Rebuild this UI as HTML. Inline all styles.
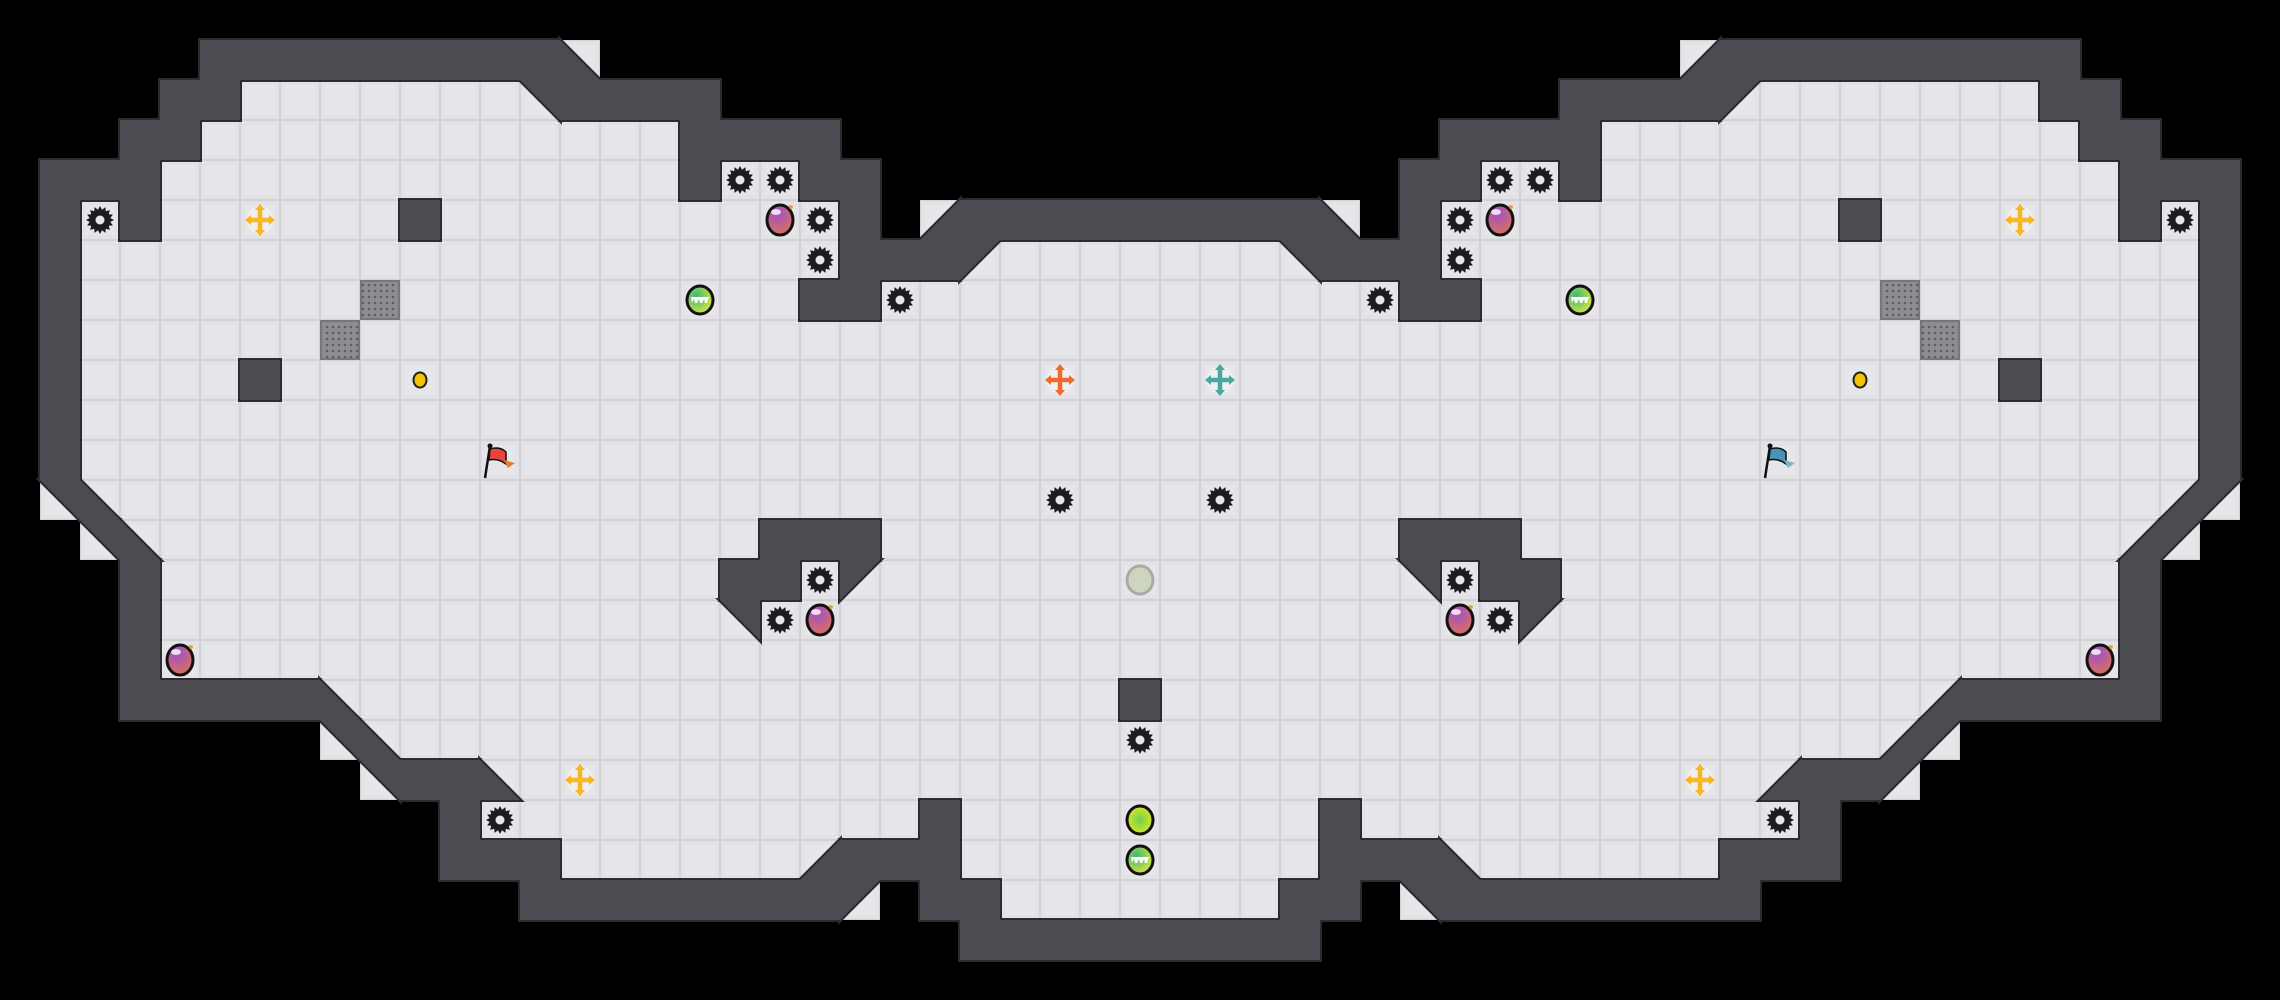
<!DOCTYPE html>
<html><head><meta charset="utf-8"><style>
html,body{margin:0;padding:0;background:#000;}
svg{display:block;}
</style></head><body>
<svg id="s" xmlns="http://www.w3.org/2000/svg" width="2280" height="1000" viewBox="0 0 2280 1000">
<defs>
<radialGradient id="gp" cx="40%" cy="25%" r="75%"><stop offset="0" stop-color="#a050c8"/><stop offset="1" stop-color="#d8705e"/></radialGradient>
<radialGradient id="gg" cx="35%" cy="35%" r="75%"><stop offset="0" stop-color="#3cb878"/><stop offset="1" stop-color="#e0e83a"/></radialGradient>
<radialGradient id="gy" cx="50%" cy="50%" r="60%"><stop offset="0" stop-color="#6fcf4a"/><stop offset="1" stop-color="#e8ec22"/></radialGradient>
<pattern id="dots" width="6" height="6" patternUnits="userSpaceOnUse"><rect width="6" height="6" fill="#8e8e92"/><circle cx="3" cy="3" r="1.3" fill="#5e5e62"/></pattern>
</defs>
<rect width="2280" height="1000" fill="#000"/>
<g id="floor"></g>
<g id="wallo" fill="#2b2b30" stroke="#2b2b30" stroke-width="4" stroke-linejoin="miter"></g>
<g id="wall" fill="#4b4b51"></g>
<g id="obj"></g>
</svg>
<script>
var L=[
"                             ",
"     #########b              ",
"    ##.......a####           ",
"   ##............####        ",
" ###.............#..##       ",
" #.#......#..........# d#####",
" #...................###c....",
" #..................##.......",
" #...........................",
" #....#......................",
" #...........................",
" #...........................",
" ab..........................",
"  ab...............###.......",
"   #..............##.c.......",
"   #..............a..........",
"   #.........................",
"   #####b...................#",
"        ab...................",
"         a##b................",
"           #...........#.....",
"           ###......d###.....",
"             ########c ##....",
"                        #####",
"                             "];
var mp={'a':'c','c':'a','b':'d','d':'b'};
var G=L.map(function(r){var s=r;for(var c=27;c>=0;c--){var ch=r[c];s+=(mp[ch]||ch);}return s;});
var NS="http://www.w3.org/2000/svg";
function el(p,t,a){var e=document.createElementNS(NS,t);for(var k in a)e.setAttribute(k,a[k]);p.appendChild(e);return e;}
var F=document.getElementById('floor'),WO=document.getElementById('wallo'),W=document.getElementById('wall'),O=document.getElementById('obj');
var T=40;
for(var r=0;r<25;r++)for(var c=0;c<57;c++){
 var ch=G[r][c],x=c*T,y=r*T;
 if(ch==' ')continue;
 if(ch!='#'){
  el(F,'rect',{x:x,y:y,width:T,height:T,fill:'#d3d3d8'});
  el(F,'rect',{x:x+1.5,y:y+1.5,width:T-3,height:T-3,fill:'#e7e7eb'});
  el(F,'rect',{x:x+4,y:y+4,width:T-8,height:T-8,fill:'none',stroke:'#dedee2','stroke-width':1});
 }
 var pts=null;
 if(ch=='#')pts=[[x,y],[x+T,y],[x+T,y+T],[x,y+T]];
 else if(ch=='a')pts=[[x,y],[x+T,y],[x+T,y+T]];
 else if(ch=='b')pts=[[x,y],[x+T,y+T],[x,y+T]];
 else if(ch=='c')pts=[[x,y],[x+T,y],[x,y+T]];
 else if(ch=='d')pts=[[x+T,y],[x+T,y+T],[x,y+T]];
 if(pts){var s=pts.map(function(p){return p.join(',')}).join(' ');
  el(WO,'polygon',{points:s});el(W,'polygon',{points:s});}
}
function C(c){return c*T+20;}
function gear(c,r){var cx=C(c),cy=C(r),p=[];for(var i=0;i<32;i++){var a=i*Math.PI/16,rr=(i%2)?10.5:14;p.push((cx+rr*Math.cos(a)).toFixed(1)+','+(cy+rr*Math.sin(a)).toFixed(1));}
 el(O,'polygon',{points:p.join(' '),fill:'#1c1c1e'});el(O,'circle',{cx:cx,cy:cy,r:4.5,fill:'#e7e7eb'});}
function bomb(c,r){var cx=C(c),cy=C(r);el(O,'ellipse',{cx:cx,cy:cy,rx:13,ry:15,fill:'url(#gp)',stroke:'#111',"stroke-width":3});
 el(O,'ellipse',{cx:cx-4,cy:cy-8,rx:5,ry:3,fill:'#fff',opacity:.8});el(O,'circle',{cx:cx+11,cy:cy-13,r:2,fill:'#f0a030'});}
function ball(c,r,f,st){var cx=C(c),cy=C(r);el(O,'ellipse',{cx:cx,cy:cy,rx:13,ry:14,fill:f,stroke:st||'#111',"stroke-width":3});}
function gball(c,r){ball(c,r,'url(#gg)');var cx=C(c),cy=C(r);el(O,'path',{d:'M'+(cx-9)+' '+(cy-3)+'h18l-2 6h-2l-1-4-2 4h-2l-1-4-2 4h-2l-1-4-2 4z',fill:'#fff'});}
function cross(c,r,col){var cx=C(c),cy=C(r);el(O,'circle',{cx:cx,cy:cy,r:14,fill:'#f2f2f4',opacity:.7});
 el(O,'path',{d:'M'+(cx-11)+' '+cy+'H'+(cx+11)+'M'+cx+' '+(cy-12)+'V'+(cy+12),stroke:col,"stroke-width":4.5});
 el(O,'path',{d:'M'+(cx-15)+' '+cy+'l6 -5v10zM'+(cx+15)+' '+cy+'l-6 -5v10zM'+cx+' '+(cy-16)+'l-5 6h10zM'+cx+' '+(cy+16)+'l-5 -6h10z',fill:col});}
function metal(c,r){el(O,'rect',{x:c*T,y:r*T,width:T,height:T,fill:'url(#dots)'});el(O,'rect',{x:c*T+1,y:r*T+1,width:T-2,height:T-2,fill:'none',stroke:'#77777b','stroke-width':2});}
function coin(c,r){el(O,'ellipse',{cx:C(c),cy:C(r),rx:6.5,ry:7.5,fill:'#f5c400',stroke:'#222',"stroke-width":2});}
function flag(c,r,col,col2){var x=c*T,y=r*T;el(O,'path',{d:'M'+(x+5)+' '+(y+38)+'L'+(x+10)+' '+(y+6),stroke:'#111','stroke-width':2.5});
 el(O,'circle',{cx:x+10,cy:y+6,r:2.5,fill:'#111'});
 el(O,'path',{d:'M'+(x+10)+' '+(y+9)+'Q'+(x+20)+' '+(y+6)+' '+(x+26)+' '+(y+12)+'L'+(x+26)+' '+(y+24)+'Q'+(x+18)+' '+(y+18)+' '+(x+9)+' '+(y+20)+'Z',fill:col,stroke:'#111','stroke-width':1.5});
 el(O,'path',{d:'M'+(x+24)+' '+(y+20)+'L'+(x+35)+' '+(y+23)+'L'+(x+28)+' '+(y+28)+'Z',fill:col2});}
var gl=[[2,5],[18,4],[19,4],[20,5],[20,6],[22,7],[20,14],[19,15],[12,20]];
gl.forEach(function(g){gear(g[0],g[1]);gear(56-g[0],g[1]);});
gear(26,12);gear(30,12);gear(28,18);
[[19,5],[20,15],[4,16]].forEach(function(b){bomb(b[0],b[1]);bomb(56-b[0],b[1]);});
gball(17,7);gball(39,7);gball(28,21);
ball(28,20,'url(#gy)');
ball(28,14,'#cdd5bf','#a9aaa6');
cross(6,5,'#f6b81e');cross(50,5,'#f6b81e');cross(14,19,'#f6b81e');cross(42,19,'#f6b81e');
cross(26,9,'#f26a2e');cross(30,9,'#4aa8a0');
metal(9,7);metal(8,8);metal(47,7);metal(48,8);
coin(10,9);coin(46,9);
flag(12,11,'#e8443c','#f07a2a');flag(44,11,'#4a90b8','#7ab8c8');
</script>
</body></html>
